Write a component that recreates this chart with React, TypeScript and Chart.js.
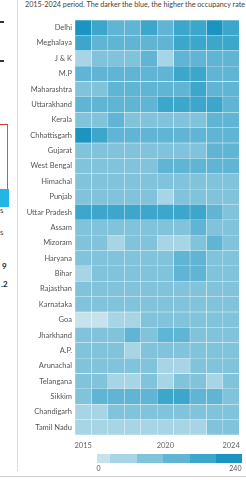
import React, { useEffect, useRef } from "react";
import { Chart, registerables } from "chart.js";
Chart.register(...registerables);

const states = [
  "Delhi", "Meghalaya", "J & K", "M.P", "Maharashtra", "Uttarakhand", "Kerala",
  "Chhattisgarh", "Gujarat", "West Bengal", "Himachal", "Punjab", "Uttar Pradesh",
  "Assam", "Mizoram", "Haryana", "Bihar", "Rajasthan", "Karnataka", "Goa",
  "Jharkhand", "A.P.", "Arunachal", "Telangana", "Sikkim", "Chandigarh", "Tamil Nadu",
];
const years = [2015, 2016, 2017, 2018, 2019, 2020, 2021, 2022, 2023, 2024];
const tickYears = [2015, 2020, 2024];

// occupancy rate (%) per year 2015..2024
const delhi = [215, 180, 135, 130, 175, 128, 178, 182, 205, 176];
const meghalaya = [168, 132, 128, 126, 130, 131, 170, 172, 168, 174];
const jk = [50, 88, 90, 92, 125, 60, 128, 130, 127, 129];
const mp = [128, 130, 126, 127, 125, 124, 172, 175, 130, 128];
const maharashtra = [95, 96, 125, 126, 127, 124, 122, 170, 128, 127];
const uttarakhand = [128, 126, 127, 125, 124, 168, 172, 174, 170, 130];
const kerala = [90, 92, 125, 80, 82, 84, 86, 88, 126, 128];
const chhattisgarh = [212, 178, 132, 128, 126, 127, 129, 130, 131, 128];
const gujarat = [98, 99, 100, 100, 101, 102, 103, 104, 125, 128];
const westBengal = [100, 99, 98, 97, 100, 125, 127, 126, 128, 127];
const himachal = [100, 99, 98, 97, 96, 100, 101, 102, 100, 99];
const punjab = [98, 97, 96, 98, 99, 55, 97, 98, 99, 100];
const uttarPradesh = [165, 168, 170, 172, 169, 175, 171, 170, 130, 100];
const assam = [95, 96, 97, 98, 97, 96, 98, 128, 99, 98];
const mizoram = [90, 92, 55, 90, 92, 50, 52, 95, 130, 95];
const haryana = [96, 97, 98, 99, 98, 100, 132, 134, 99, 98];
const bihar = [58, 96, 97, 98, 99, 100, 135, 136, 99, 98];
const rajasthan = [98, 97, 98, 97, 96, 97, 98, 99, 98, 97];
const karnataka = [97, 96, 97, 98, 99, 98, 97, 96, 97, 98];
const goa = [15, 12, 52, 55, 95, 96, 97, 95, 96, 97];
const jharkhand = [96, 95, 97, 130, 96, 132, 131, 97, 96, 95];
const ap = [97, 96, 95, 58, 96, 97, 98, 97, 96, 95];
const arunachal = [96, 95, 97, 96, 95, 55, 56, 96, 95, 97];
const telangana = [96, 97, 56, 57, 98, 55, 100, 101, 54, 97];
const sikkim = [98, 128, 130, 131, 129, 178, 176, 130, 128, 99];
const chandigarh = [60, 62, 96, 97, 98, 99, 98, 97, 96, 95];
const tamilNadu = [62, 63, 64, 62, 61, 63, 64, 62, 98, 99];

const rows = [
  delhi, meghalaya, jk, mp, maharashtra, uttarakhand, kerala, chhattisgarh,
  gujarat, westBengal, himachal, punjab, uttarPradesh, assam, mizoram, haryana,
  bihar, rajasthan, karnataka, goa, jharkhand, ap, arunachal, telangana, sikkim,
  chandigarh, tamilNadu,
];

const binEdges = [0, 20, 65, 110, 150, 195, 240];
const binColors = ["#c6e2ec", "#a7d5e5", "#80c3db", "#60b5d4", "#3da6cb", "#1b94c1"];
const legendMin = "0";
const legendMax = "240";

const subtitle = "2015-2024 period. The darker the blue, the higher the occupancy rate";

function colorFor(v: number) {
  for (let i = binEdges.length - 2; i >= 0; i--) {
    if (v >= binEdges[i]) return binColors[i];
  }
  return binColors[0];
}

const FONT = "Lato, 'Noto Sans', sans-serif";

export default function App() {
  const ref = useRef<HTMLCanvasElement | null>(null);

  useEffect(() => {
    document.body.style.margin = "0";
    const canvas = ref.current;
    if (!canvas) return;
    const chart = new Chart(canvas, {
      type: "bar",
      data: {
        labels: states,
        datasets: years.map((yr, j) => ({
          label: String(yr),
          data: states.map(() => [yr - 0.5, yr + 0.5]) as any,
          backgroundColor: rows.map((r) => colorFor(r[j])),
          borderWidth: 0.5,
          borderColor: "rgba(255,255,255,0.07)",
          borderSkipped: false,
          grouped: false,
          categoryPercentage: 1,
          barPercentage: 1,
        })) as any,
      },
      options: {
        indexAxis: "y",
        animation: false,
        responsive: false,
        maintainAspectRatio: false,
        layout: { padding: { top: 20, right: 4, left: 0, bottom: 25 } },
        plugins: { legend: { display: false }, tooltip: { enabled: false } },
        scales: {
          x: {
            type: "linear",
            min: 2014.5,
            max: 2024.5,
            grid: { display: false, drawTicks: false },
            border: { display: false },
            afterBuildTicks: (s: any) => {
              s.ticks = tickYears.map((v) => ({ value: v }));
            },
            afterFit: (s: any) => {
              s.height = 20;
            },
            ticks: {
              padding: 6,
              autoSkip: false,
              maxRotation: 0,
              color: "#666",
              font: { family: FONT, size: 7.5 },
              callback: (v: any) => String(v),
            },
          },
          y: {
            type: "category",
            grid: { display: false, drawTicks: false },
            border: { display: false },
            afterFit: (s: any) => {
              s.width = 75;
            },
            ticks: {
              padding: 3,
              autoSkip: false,
              color: "#555",
              font: { family: FONT, size: 7.5 },
            },
          },
        },
      },
    } as any);
    return () => chart.destroy();
  }, []);

  const legendWidths = [13.3, 26.7, 26.7, 26.7, 25.6, 26.7];

  return (
    <div style={{ position: "relative", width: 246, height: 480, overflow: "hidden", background: "#fff", fontFamily: FONT }}>
      {/* fragments of the neighbouring panel */}
      <div style={{ position: "absolute", left: 0, top: 21, width: 4, height: 1.5, background: "#333" }} />
      <div style={{ position: "absolute", left: 0, top: 60, width: 4, height: 1.5, background: "#333" }} />
      <div style={{ position: "absolute", left: 0, top: 124, width: 7, height: 64, borderTop: "1px solid #c0392b", borderRight: "1.5px solid #d9534f", background: "#fff" }} />
      <div style={{ position: "absolute", left: 0, top: 189, width: 8.5, height: 18, background: "#23b5e3" }} />
      <div style={{ position: "absolute", left: 0, top: 205, fontSize: 8, color: "#444" }}>s</div>
      <div style={{ position: "absolute", left: 0, top: 227, fontSize: 8, color: "#444" }}>s</div>
      <div style={{ position: "absolute", left: 2, top: 261, fontSize: 8, fontWeight: 700, color: "#222" }}>9</div>
      <div style={{ position: "absolute", left: 1, top: 279, fontSize: 8, fontWeight: 700, color: "#222" }}>.2</div>
      <div style={{ position: "absolute", left: 17, top: 0, width: 1, height: 471, background: "#ddd" }} />
      <div style={{ position: "absolute", left: 0, top: 476, width: 246, height: 1, background: "#ccc" }} />

      <div style={{ position: "absolute", left: 25, top: 0, fontSize: 7.2, lineHeight: "10px", color: "#444", whiteSpace: "nowrap" }}>
        {subtitle}
      </div>

      <canvas ref={ref} width={246} height={480} style={{ position: "absolute", left: 0, top: 0, width: 246, height: 480 }} />

      <div style={{ position: "absolute", left: 96.7, top: 454, height: 8.5, display: "flex" }}>
        {binColors.map((c, i) => (
          <div key={i} style={{ width: legendWidths[i], height: 8.5, background: c }} />
        ))}
      </div>
      <div style={{ position: "absolute", left: 96.5, top: 464, fontSize: 7, color: "#555" }}>{legendMin}</div>
      <div style={{ position: "absolute", right: 4.5, top: 464, fontSize: 7, color: "#555" }}>{legendMax}</div>
    </div>
  );
}
